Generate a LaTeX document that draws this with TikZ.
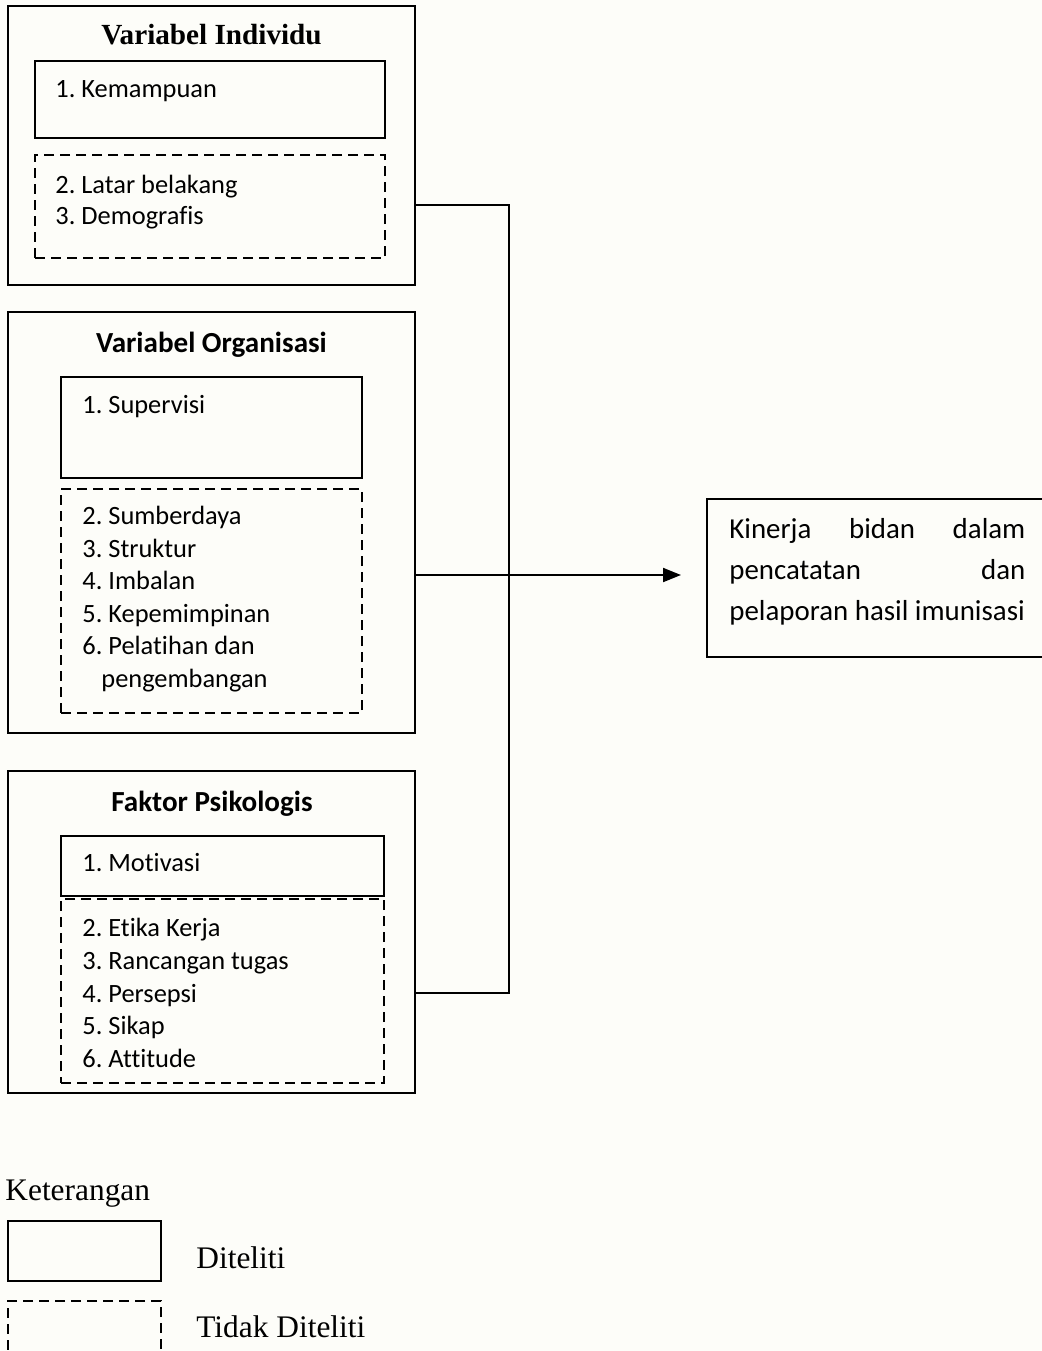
\documentclass[tikz,border=0pt]{standalone}
\usepackage{fontspec}
\setmainfont{Carlito}[Ligatures=NoCommon]
\newfontfamily\tnr{Liberation Serif}[Ligatures=NoCommon]
\frenchspacing
\usetikzlibrary{fit,arrows.meta}
\definecolor{bgcol}{RGB}{253,253,249}
\tikzset{
  solidbox/.style={draw, line width=1.1pt, inner sep=0pt, outer sep=0pt},
  dashbox/.style={draw, line width=0.9pt, dash pattern=on 5pt off 3pt, inner sep=0pt, outer sep=0pt},
  item/.style={anchor=base west, inner sep=0pt, font=\fontsize{13.2}{16}\selectfont},
  ttl/.style={anchor=base, inner sep=0pt, font=\fontsize{14.55}{18}\selectfont\bfseries},
  rtxt/.style={anchor=base west, inner sep=0pt, font=\fontsize{14.45}{20}\selectfont},
  legtxt/.style={anchor=base west, inner sep=0pt, font=\tnr\fontsize{15.7}{19}\selectfont},
  link/.style={line width=1pt}
}
\begin{document}
\begin{tikzpicture}[x=0.5pt,y=-0.5pt]
\useasboundingbox (0,0) rectangle (1042,1351);
\clip (0,0) rectangle (1042,1351);
\fill[bgcol] (0,0) rectangle (1042,1351);

% Box 1
\node[solidbox, fit={(8,6) (415,285)}] (b1) {};
\node[solidbox, fit={(35,61) (385,138)}] (b1s) {};
\node[dashbox, fit={(35,155) (385,258)}] (b1d) {};
\node[ttl, font=\tnr\fontsize{14.6}{18}\selectfont\bfseries] (t1) at (211.5,44) {Variabel Individu};
\node[item] (i11) at (55,97) {1. Kemampuan};
\node[item] (i12) at (55,193) {2. Latar belakang};
\node[item] (i13) at (55,224) {3. Demografis};

% Box 2
\node[solidbox, fit={(8,312) (415,733)}] (b2) {};
\node[solidbox, fit={(61,377) (362,478)}] (b2s) {};
\node[dashbox, fit={(61,489) (362,713)}] (b2d) {};
\node[ttl] (t2) at (211.5,352) {Variabel Organisasi};
\node[item] (i21) at (82,413) {1. Supervisi};
\node[item] (i22) at (82,524) {2. Sumberdaya};
\node[item] (i23) at (82,557) {3. Struktur};
\node[item] (i24) at (82,589) {4. Imbalan};
\node[item] (i25) at (82,622) {5. Kepemimpinan};
\node[item] (i26) at (82,654) {6. Pelatihan dan};
\node[item] (i27) at (101,687) {pengembangan};

% Box 3
\node[solidbox, fit={(8,771) (415,1093)}] (b3) {};
\node[solidbox, fit={(61,836) (384,896)}] (b3s) {};
\node[dashbox, fit={(61,899) (384,1083)}] (b3d) {};
\node[ttl] (t3) at (212,811) {Faktor Psikologis};
\node[item] (i31) at (82,871) {1. Motivasi};
\node[item] (i32) at (82,936) {2. Etika Kerja};
\node[item] (i33) at (82,969) {3. Rancangan tugas};
\node[item] (i34) at (82,1002) {4. Persepsi};
\node[item] (i35) at (82,1034) {5. Sikap};
\node[item] (i36) at (82,1067) {6. Attitude};

% Result box
\node[solidbox, fit={(707,499) (1090,657)}] (rb) {};
\node[rtxt] (r1) at (729,538) {\makebox[148pt][s]{Kinerja bidan dalam}};
\node[rtxt] (r2) at (729,579) {\makebox[148pt][s]{pencatatan dan}};
\node[rtxt] (r3) at (729,620) {pelaporan hasil imunisasi};

% Connectors
\coordinate (j1) at (509,205);
\coordinate (j3) at (509,993);
\coordinate (ah) at (681,575);
\draw[link] (b1.east |- j1) -- (j1) -- (j3) -- (b3.east |- j3);
\draw[link, -{Triangle[length=9pt,width=7pt]}] (b2.east |- ah) -- (ah);

% Legend
\node[legtxt] (k) at (5,1200) {Keterangan};
\node[solidbox, fit={(8,1221) (161,1281)}] (lg1) {};
\node[dashbox, fit={(8,1301) (161,1420)}] (lg2) {};
\node[legtxt] (d1) at (196,1268) {Diteliti};
\node[legtxt] (d2) at (196,1337) {Tidak Diteliti};
\end{tikzpicture}
\end{document}
